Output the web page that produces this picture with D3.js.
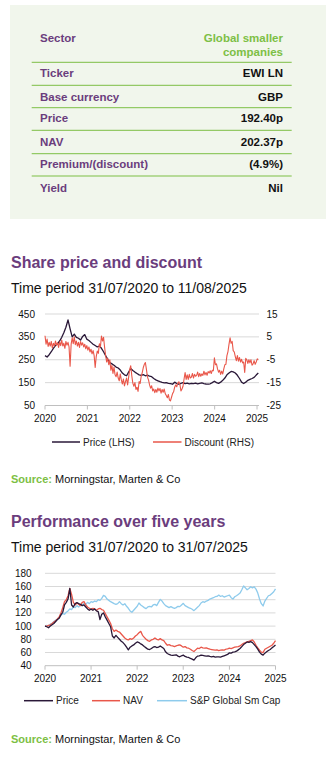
<!DOCTYPE html>
<html>
<head>
<meta charset="utf-8">
<script src="https://cdn.jsdelivr.net/npm/d3@7"></script>
<style>
  html, body { margin: 0; padding: 0; background: #ffffff; }
  svg { display: block; }
  text { font-family: Arial, "Liberation Sans", sans-serif; }
</style>
</head>
<body>
<svg id="page" width="326" height="761"></svg>
<script>
// ---- Fact table ----
const tableLabels = ["Sector", "Ticker", "Base currency", "Price", "NAV", "Premium/(discount)", "Yield"];
const tableValues = [["Global smaller", "companies"], ["EWI LN"], ["GBP"], ["192.40p"], ["202.37p"], ["(4.9%)"], ["Nil"]];

// ---- Share price and discount (sampled evenly from start to end date) ----
const spStart = "2020-07-31", spEnd = "2025-08-11";
const yearLabels = ["2020", "2021", "2022", "2023", "2024", "2025"];
const priceTicks = [50, 150, 250, 350, 450];
const discountTicks = [-25, -15, -5, 5, 15];

// Share price, pence (LHS)
const sharePrice = [
  268, 262, 272, 285, 300, 312, 320, 332, 348, 368, 392, 424, 385, 350, 362, 348, 344, 336, 352, 360,
  340, 334, 326, 318, 312, 306, 310, 300, 285, 268, 252, 238, 232, 226, 218, 214, 205, 192, 184, 180,
  196, 212, 203, 196, 190, 184, 182, 185, 180, 183, 178, 176, 168, 162, 158, 154, 151, 149, 150, 147,
  146, 143, 152, 146, 143, 147, 150, 146, 148, 145, 147, 146, 148, 145, 147, 149, 146, 144, 143, 145,
  150, 156, 150, 147, 152, 160, 170, 184, 192, 199, 197, 192, 182, 168, 152, 146, 152, 160, 164, 168,
  173, 183, 192.4
];

// Premium/(discount), % (RHS)
const discount = [
  5.5, 1.8, 4.0, 0.8, 2.6, 1.0, 3.0, 0.2, 2.2, 1.0, 3.2, 1.4, 2.4, 0.4, 2.8, 1.2, 3.6, 1.0, 2.2, 0.0,
  3.0, 1.4, 2.6, 0.6, -7.8, 1.8, 4.6, 2.0, 5.0, 1.6, 3.2, 1.0, 2.6, 0.4, 3.0, 1.4, 2.4, 0.6, 1.8, -0.2,
  1.2, -0.8, 0.6, -1.6, -0.4, -2.4, -1.0, -3.2, -8.4, -3.6, -1.2, -2.2, 2.0, 0.6, 5.4, 3.2, 4.8, 0.4, -3.2, -6.0,
  -4.4, -7.2, -5.0, -9.6, -7.4, -11.0, -8.2, -11.6, -12.4, -10.4, -13.0, -14.2, -11.2, -13.8, -15.6, -13.4, -16.4, -14.6, -13.0, -16.0,
  -12.6, -9.2, -7.6, -12.0, -15.2, -16.6, -15.0, -18.0, -17.0, -18.8, -14.5, -15.4, -12.2, -10.6, -8.4, -7.0, -6.2, -9.2, -12.6, -13.8,
  -16.0, -17.4, -16.4, -18.6, -17.8, -19.4, -18.0, -19.2, -17.4, -18.6, -17.6, -19.6, -18.0, -19.2, -17.8, -19.8, -20.6, -21.6, -20.2, -22.6,
  -23.0, -21.4, -19.8, -19.0, -17.0, -16.0, -16.8, -15.2, -14.6, -15.8, -18.6, -17.8, -16.6, -13.4, -10.6, -13.6, -11.6, -13.6, -11.4, -13.0,
  -12.6, -11.0, -13.0, -11.4, -12.2, -11.8, -10.4, -12.4, -11.0, -12.2, -11.2, -11.8, -10.0, -11.6, -10.6, -11.8, -10.2, -10.8, -9.8, -11.0,
  -9.6, -9.8, -4.2, -7.2, -6.8, -9.0, -10.4, -9.6, -11.4, -10.0, -11.2, -9.0, -7.2, -7.0, -3.2, -1.4, 1.8, 4.6, 2.2, 3.0,
  -1.0, -1.6, -3.6, -5.4, -3.2, -5.6, -4.0, -6.0, -4.8, -6.4, -6.0, -10.6, -4.4, -5.0, -6.6, -5.0, -6.4, -5.0, -7.4, -6.8,
  -5.4, -7.0, -6.0, -4.6, -4.9
];

// ---- Performance over five years (rebased to 100, sampled evenly) ----
const pfStart = "2020-07-31", pfEnd = "2025-07-31";
const perfTicks = [40, 60, 80, 100, 120, 140, 160, 180];

const perfPrice = [
  100, 99, 97.5, 100, 102, 104, 107, 110, 112, 117, 121, 132, 136, 141, 157, 132, 129, 134, 135.5, 134,
  133, 131, 132, 129, 126, 124, 126, 124, 126, 123, 122, 110, 118, 120, 114, 109, 104, 99, 85, 82,
  86, 83, 80, 77, 75, 72, 68, 64, 68, 70, 71.5, 74, 76, 75, 73, 71.5, 69, 67, 65, 64.5,
  66, 68, 69, 67.5, 68, 70, 68, 66, 61, 58.5, 57, 56, 55.5, 56, 56.5, 54.5, 53.5, 55, 56, 54,
  53, 52.5, 51, 50, 48.5, 52, 54.5, 55, 56, 55.5, 55, 54.5, 55, 54, 53.5, 54, 53, 53.5, 53.5, 53,
  54, 55, 56, 57, 59.5, 59, 60.5, 61, 62, 64, 66, 69, 72, 74, 76, 75.5, 76.5, 75, 72, 69,
  65, 60.5, 57.5, 56, 59, 61, 63, 64.5, 67, 69, 71.5
];

const perfNav = [
  100, 100, 101, 102, 104, 106, 108, 111, 114, 120, 128, 137, 140, 146, 157, 148, 136, 132, 135, 133,
  131, 136, 137, 132, 129, 127, 125, 127, 126, 124, 126, 127, 125, 124, 119, 114, 109, 104, 96, 92,
  94, 92, 91, 88, 85, 82, 80, 79, 81, 80, 82, 85, 87, 90, 92, 86, 83, 80, 78, 77,
  79, 80, 82, 80, 79, 81, 79, 78, 74, 71, 72, 70.5, 70, 69, 70, 71, 71.5, 70, 68, 69,
  67, 66.5, 65, 63, 61.5, 64, 66.5, 66, 68, 67, 66.5, 67, 66, 65, 64.5, 64, 63.5, 64, 63, 63.5,
  64, 63.5, 65, 65.5, 66.5, 66, 67, 68, 68.5, 69, 70, 72, 74, 75, 76, 77, 78, 79, 76, 71,
  67, 63.5, 60.5, 60, 65, 66.5, 68, 69.5, 71, 74, 78
];

const perfIndex = [
  100, 101, 100.5, 103, 104, 107, 109, 110, 113, 117, 119, 118, 121, 123, 126, 125, 129, 128, 131, 129,
  132, 131, 134.5, 133, 136, 134, 137, 136, 138, 137, 140, 139, 142, 146.5, 145, 141, 139, 137, 135.5, 134,
  133, 134, 137, 134, 132, 134, 130, 127, 123, 121, 124, 127, 130, 135, 132, 130, 128, 126.5, 129, 130,
  129, 132, 133, 131, 136, 140.5, 138, 134, 131, 129.5, 128, 129.5, 128, 127, 128, 130, 129.5, 132, 134.5, 131,
  129.5, 128, 127, 125.5, 123.4, 126, 128.5, 131, 135, 137, 136, 138, 139, 141, 142, 143, 144.5, 145, 147, 145,
  146, 144, 145, 146, 147, 143, 141, 144.5, 146, 148, 150, 155, 160.8, 158, 155, 157, 159.6, 158, 159.6, 156,
  150, 141, 134, 130.5, 138, 142, 146, 147, 149.5, 152, 156.5
];

// ---- Palette ----
const PURPLE = "#6b3d7d";
const GREEN = "#7dbf45";
const DARK = "#2a1838";
const RED = "#e9574a";
const BLUE = "#8ecbec";
const GRID = "#d9d9d9";
const AXIS = "#bfbfbf";

const svg = d3.select("#page");
const parse = d3.timeParse("%Y-%m-%d");

// ---------- Fact table ----------
svg.append("rect").attr("x", 10).attr("y", 5).attr("width", 316).attr("height", 214).attr("fill", "#f1f6ec");

const rowCentres = [37.7, 73.3, 96.7, 118.3, 141.7, 164.3, 187.7];
const ruleYs = [62.3, 85.3, 107.7, 130.3, 153.7, 176];
const table = svg.append("g").attr("font-size", 11.5).attr("font-weight", "bold");
tableLabels.forEach((lab, i) => {
  table.append("text").attr("x", 40).attr("y", rowCentres[i] + 4).attr("fill", PURPLE).text(lab);
  tableValues[i].forEach((v, j) => {
    table.append("text").attr("x", 283).attr("y", rowCentres[i] + 4 + j * 14)
      .attr("text-anchor", "end").attr("fill", i === 0 ? GREEN : "#111111").text(v);
  });
});
ruleYs.forEach(y => {
  table.append("line").attr("x1", 31.7).attr("x2", 291.7).attr("y1", y).attr("y2", y)
    .attr("stroke", GREEN).attr("stroke-width", 1);
});

// ---------- Shared helpers ----------
function heading(y, title, sub) {
  svg.append("text").attr("x", 11).attr("y", y).attr("font-size", 16).attr("font-weight", "bold")
    .attr("fill", PURPLE).text(title);
  svg.append("text").attr("x", 11).attr("y", y + 25).attr("font-size", 14).attr("fill", "#111111").text(sub);
}

function sourceLine(y) {
  const t = svg.append("text").attr("x", 11).attr("y", y).attr("font-size", 11).attr("fill", "#111111");
  t.append("tspan").attr("font-weight", "bold").attr("fill", GREEN).text("Source:");
  t.append("tspan").text(" Morningstar, Marten & Co");
}

function legendItem(x1, x2, y, colour, label) {
  svg.append("line").attr("x1", x1).attr("x2", x2).attr("y1", y).attr("y2", y)
    .attr("stroke", colour).attr("stroke-width", 1.5);
  svg.append("text").attr("x", x2 + 3).attr("y", y + 3.6).attr("font-size", 10).attr("fill", "#222222").text(label);
}

function yearTickDates(startStr) {
  const s = parse(startStr);
  return yearLabels.map((_, k) => d3.timeYear.offset(s, k));
}

function drawXAxis(x, yPos, startStr, xEnd) {
  const ticks = yearTickDates(startStr);
  const g = svg.append("g");
  g.append("line").attr("x1", x.range()[0]).attr("x2", xEnd).attr("y1", yPos).attr("y2", yPos)
    .attr("stroke", AXIS).attr("stroke-width", 1);
  ticks.forEach((d, k) => {
    const px = x(d);
    g.append("line").attr("x1", px).attr("x2", px).attr("y1", yPos).attr("y2", yPos + 4)
      .attr("stroke", AXIS).attr("stroke-width", 1);
    g.append("text").attr("x", px).attr("y", yPos + 16).attr("text-anchor", "middle")
      .attr("font-size", 10).attr("fill", "#111111").text(yearLabels[k]);
  });
}

// Observation dates: n points spread evenly between the first and last date.
function sampleDates(n, startStr, endStr) {
  const t = d3.scaleLinear().domain([0, n - 1]).range([+parse(startStr), +parse(endStr)]);
  return d3.range(n).map(i => new Date(t(i)));
}

// ---------- Chart 1: share price and discount ----------
heading(267.5, "Share price and discount", "Time period 31/07/2020 to 11/08/2025");

const x1 = d3.scaleTime().domain([parse(spStart), parse(spEnd)]).range([45, 258.3]);
const yL = d3.scaleLinear().domain([50, 450]).range([405.5, 314]);
const yR = d3.scaleLinear().domain([-25, 15]).range([405.5, 314]);
const grid1End = 259;

const g1 = svg.append("g");
priceTicks.forEach((t, k) => {
  if (t !== 50) {
    g1.append("line").attr("x1", 45).attr("x2", grid1End).attr("y1", yL(t)).attr("y2", yL(t))
      .attr("stroke", GRID).attr("stroke-width", 1);
  }
  g1.append("text").attr("x", 35).attr("y", yL(t) + 3.5).attr("text-anchor", "end")
    .attr("font-size", 10).attr("fill", "#111111").text(t);
  g1.append("text").attr("x", 266.5).attr("y", yR(discountTicks[k]) + 3.5)
    .attr("font-size", 10).attr("fill", "#111111").text(discountTicks[k]);
});
drawXAxis(x1, yL(50), spStart, grid1End);

const priceDates = sampleDates(sharePrice.length, spStart, spEnd);
const discDates = sampleDates(discount.length, spStart, spEnd);

g1.append("path")
  .attr("d", d3.line().x((d, i) => x1(priceDates[i])).y(d => yL(d))(sharePrice))
  .attr("fill", "none").attr("stroke", DARK).attr("stroke-width", 1.3).attr("stroke-linejoin", "round");
g1.append("path")
  .attr("d", d3.line().x((d, i) => x1(discDates[i])).y(d => yR(d))(discount))
  .attr("fill", "none").attr("stroke", RED).attr("stroke-width", 1.1).attr("stroke-linejoin", "round");

legendItem(52, 80, 442, DARK, "Price (LHS)");
legendItem(153, 181.5, 442, RED, "Discount (RHS)");
sourceLine(483);

// ---------- Chart 2: performance over five years ----------
heading(527, "Performance over five years", "Time period 31/07/2020 to 31/07/2025");

const x2 = d3.scaleTime().domain([parse(pfStart), parse(pfEnd)]).range([45, 275.5]);
const y2 = d3.scaleLinear().domain([40, 180]).range([665.7, 573.3]);
const grid2End = 275.5;

const g2 = svg.append("g");
perfTicks.forEach(t => {
  if (t !== 40) {
    g2.append("line").attr("x1", 45).attr("x2", grid2End).attr("y1", y2(t)).attr("y2", y2(t))
      .attr("stroke", GRID).attr("stroke-width", 1);
  }
  g2.append("text").attr("x", 31.7).attr("y", y2(t) + 3.5).attr("text-anchor", "end")
    .attr("font-size", 10).attr("fill", "#111111").text(t);
});
drawXAxis(x2, y2(40), pfStart, grid2End);

const perfDates = sampleDates(perfPrice.length, pfStart, pfEnd);
const perfLine = d3.line().x((d, i) => x2(perfDates[i])).y(d => y2(d));
[[perfIndex, BLUE], [perfNav, RED], [perfPrice, DARK]].forEach(([series, colour]) => {
  g2.append("path").attr("d", perfLine(series))
    .attr("fill", "none").attr("stroke", colour).attr("stroke-width", 1.3).attr("stroke-linejoin", "round");
});

legendItem(24, 53, 700.7, DARK, "Price");
legendItem(92, 120, 700.7, RED, "NAV");
legendItem(157, 187, 700.7, BLUE, "S&P Global Sm Cap");
sourceLine(743);
</script>
</body>
</html>
